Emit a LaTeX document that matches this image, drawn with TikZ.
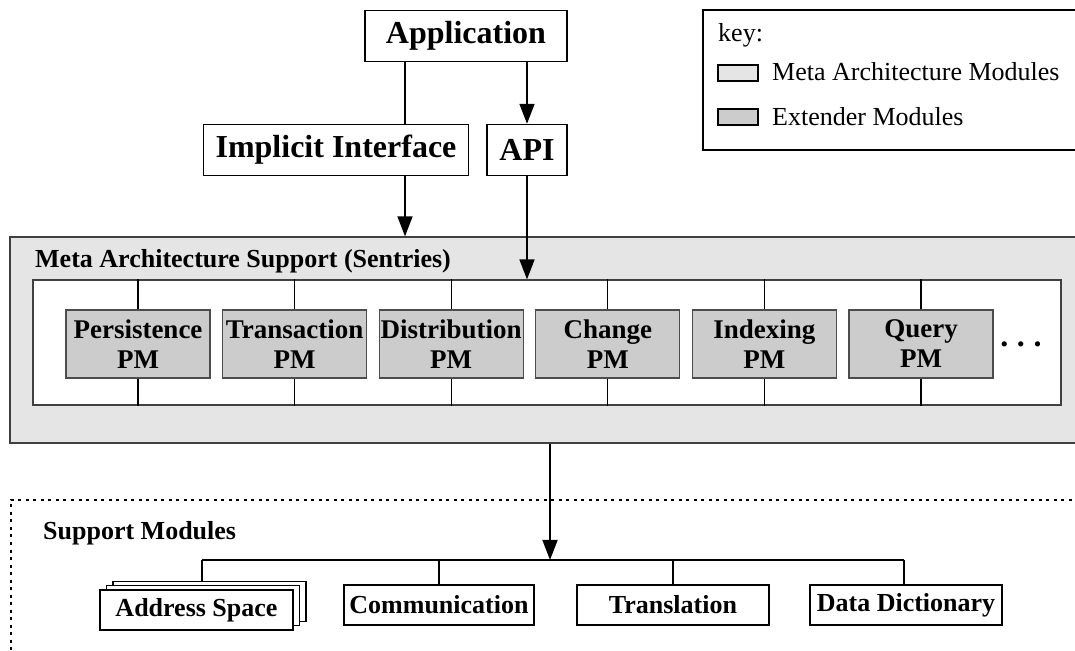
\documentclass[tikz,border=0pt]{standalone}
\usepackage{fontspec}
\setmainfont{Liberation Serif}
\usetikzlibrary{arrows.meta,positioning}

\tikzset{
  topbox/.style={draw,line width=1.4pt,fill=white,inner sep=0pt,minimum height=51pt,font=\fontsize{32}{34}\selectfont\bfseries},
  pmbox/.style={draw=black!70,line width=1.2pt,fill=black!20,inner sep=0pt,minimum width=144pt,minimum height=68pt,align=center,font=\fontsize{27}{30}\selectfont\bfseries},
  supbox/.style={draw,line width=1.3pt,fill=white,inner sep=0pt,minimum width=192pt,minimum height=40pt,font=\fontsize{26}{28}\selectfont\bfseries},
  swatch/.style={draw,line width=1.3pt,inner sep=0pt,minimum width=40pt,minimum height=16pt},
  keytext/.style={anchor=base west,inner sep=0pt,font=\fontsize{26}{28}\selectfont},
  heading/.style={anchor=base west,inner sep=0pt,font=\fontsize{26}{28}\selectfont\bfseries},
  link/.style={line width=1.4pt},
  tick/.style={line width=1.1pt},
  arr/.style={line width=1.6pt,-{Triangle[length=20pt,width=15pt]}}
}

\begin{document}
\begin{tikzpicture}[x=1pt,y=1pt]
\useasboundingbox (0,0) rectangle (1075,650);
\clip (0,0) rectangle (1075,650);

% application and its two entry points
\node[topbox,minimum width=202pt] (app) at (466,614) {Application};
\node[topbox,minimum width=265pt] (impl) at (336,500) {Implicit Interface};
\node[topbox,minimum width=80pt] (api) at (527,500) {API};

% key
\node[draw,line width=1.3pt,fill=white,minimum width=387pt,minimum height=140pt] (key) at (896.5,570) {};
\node[keytext] (keylbl) at (718,608) {key:};
\node[swatch,fill=black!10] (swmeta) at (738,577) {};
\node[keytext] (keymeta) at (772,569) {Meta Architecture Modules};
\node[swatch,fill=black!20] (swext) at (738,533) {};
\node[keytext] (keyext) at (772,524) {Extender Modules};

% sentries layer
\node[draw=black!75,line width=1.3pt,fill=black!10,minimum width=1080pt,minimum height=206pt] (outer) at (550,310) {};
\node[heading] (sentries) at (35,382) {Meta Architecture Support (Sentries)};
\node[draw=black!75,line width=1.2pt,fill=white,minimum width=1028pt,minimum height=125pt] (inner) at (547,307.5) {};

\node[pmbox] (persist) at (138,306) {Persistence\\PM};
\node[pmbox,right=11.4pt of persist] (trans) {Transaction\\PM};
\node[pmbox,right=11.4pt of trans] (distr) {Distribution\\PM};
\node[pmbox,right=11.4pt of distr] (change) {Change\\PM};
\node[pmbox,right=11.4pt of change] (index) {Indexing\\PM};
\node[pmbox,right=11.4pt of index] (query) {Query\\PM};
\node[font=\fontsize{32}{34}\selectfont\bfseries,inner sep=0pt] (more) at (1021,306) {.\hspace{8.7pt}.\hspace{8.7pt}.};

\foreach \pmname in {persist,trans,distr,change,index,query} {
  \draw[tick] (\pmname.north) -- (\pmname.north |- inner.north);
  \draw[tick] (\pmname.south) -- (\pmname.south |- inner.south);
}

% calls coming down from the application
\draw[link] ([xshift=-61pt]app.south) -- ([xshift=-61pt]app.south |- impl.north);
\draw[arr] (api.north |- app.south) -- (api.north);
\draw[arr] ([xshift=69pt]impl.south) -- ([xshift=69pt]impl.south |- outer.north);
\draw[arr] (api.south) -- (api.south |- inner.north);

% support modules
\node[draw,line width=1.6pt,dash pattern=on 3pt off 4.5pt,minimum width=1089pt,minimum height=180pt] (support) at (555.5,60) {};
\node[heading] (suplbl) at (43,110) {Support Modules};

\node[supbox,minimum width=193pt] (addr2) at (209.5,48.6) {};
\node[supbox,minimum width=193pt] (addr1) at (203,44.3) {};
\node[supbox,minimum width=193pt] (addr) at (196.5,40) {Address Space};
\node[supbox,minimum width=190pt] (comm) at (439,45) {Communication};
\node[supbox] (transl) at (673,45) {Translation};
\node[supbox] (dict) at (906,45) {Data Dictionary};

\coordinate (busL) at (202,90);
\coordinate (busR) at (904,90);
\draw[tick] (busL) -- (busR);
\draw[tick] (busL) -- (busL |- addr2.north);
\draw[tick] (comm.north |- busL) -- (comm.north);
\draw[tick] (transl.north |- busL) -- (transl.north);
\draw[tick] (busR) -- (busR |- dict.north);
\draw[arr] (outer.south) -- (outer.south |- busL);
\end{tikzpicture}
\end{document}
